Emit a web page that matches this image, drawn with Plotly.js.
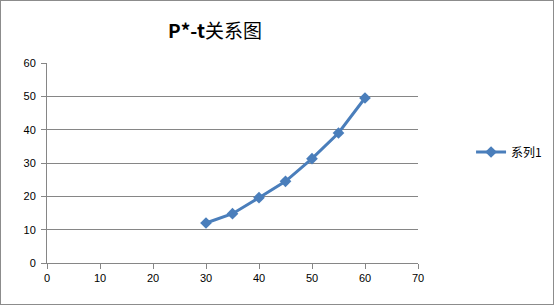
<!DOCTYPE html>
<html><head><meta charset="utf-8">
<script src="https://cdn.plot.ly/plotly-3.0.1.min.js"></script>
<style>
html,body{margin:0;padding:0;background:#fff;}
#wrap{width:552px;height:303px;border:1px solid #8c8c8c;}
#chart{width:552px;height:303px;}
</style></head>
<body><div id="wrap"><div id="chart"></div></div>
<script>
const xValues = [30, 35, 40, 45, 50, 55, 60];
const yValues = [12.0, 14.8, 19.6, 24.5, 31.3, 39.0, 49.5];
const seriesName = "系列1";
const chartTitle = "<b>P*-t</b>关系图";
const xTicks = [0, 10, 20, 30, 40, 50, 60, 70];
const yTicks = [0, 10, 20, 30, 40, 50, 60];

const trace = {
  x: xValues, y: yValues, name: seriesName,
  type: 'scatter', mode: 'lines+markers',
  line: {color: '#4a7ebb', width: 3},
  marker: {symbol: 'diamond', size: 9, color: '#4a7ebb'}
};
const axisFont = {family: 'Liberation Sans, DejaVu Sans, sans-serif', size: 11, color: '#000'};
const layout = {
  width: 552, height: 303,
  margin: {l: 46, r: 135, t: 62, b: 41, autoexpand: false},
  paper_bgcolor: '#fff', plot_bgcolor: '#fff',
  showlegend: true,
  title: {text: chartTitle, x: 214/552, xanchor: 'center', y: 1 - 30/303, yanchor: 'middle',
    font: {family: 'Noto Sans CJK SC, sans-serif', size: 19, color: '#000'}},
  xaxis: {range: [0, 70], tickvals: xTicks, ticktext: xTicks.map(String),
    showgrid: false, zeroline: false, showline: true, linecolor: '#868686', linewidth: 1,
    ticks: 'outside', ticklen: 5, tickcolor: '#868686', tickfont: axisFont, fixedrange: true},
  yaxis: {range: [0, 60], tickvals: yTicks, ticktext: yTicks.map(String),
    showgrid: true, gridcolor: '#868686', gridwidth: 1, zeroline: false,
    showline: true, linecolor: '#868686', linewidth: 1, ticklabelstandoff: 3,
    ticks: 'outside', ticklen: 5, tickcolor: '#868686', tickfont: axisFont, fixedrange: true},
  legend: {x: 1.143, xanchor: 'left', y: 0.555, yanchor: 'middle',
    font: {family: 'Noto Sans CJK SC, sans-serif', size: 12, color: '#000'},
    bgcolor: 'rgba(0,0,0,0)', itemwidth: 30}
};
Plotly.newPlot('chart', [trace], layout, {displayModeBar: false, staticPlot: true});
</script></body></html>
